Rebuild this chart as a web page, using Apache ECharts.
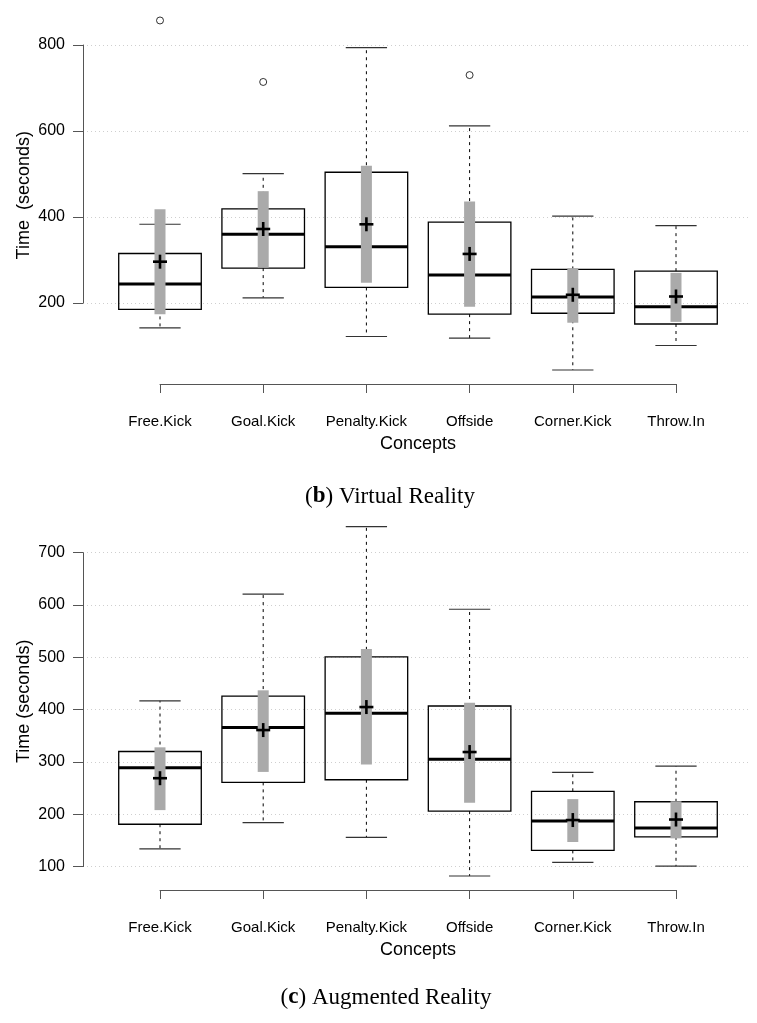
<!DOCTYPE html>
<html>
<head>
<meta charset="utf-8">
<script src="https://cdn.jsdelivr.net/npm/echarts@6/dist/echarts.min.js"></script>
<style>
html,body{margin:0;padding:0;background:#fff;}
#chart{width:757px;height:1023px;}
</style>
</head>
<body>
<div id="chart"></div>
<script>
// ---------- data ----------
const categories = ['Free.Kick', 'Goal.Kick', 'Penalty.Kick', 'Offside', 'Corner.Kick', 'Throw.In'];

// (b) Virtual Reality
const vrLowWhisker  = [142, 212, 122, 118, 44, 101];
const vrQ1          = [185, 281, 236, 174, 176, 151];
const vrMedian      = [244, 360, 331, 265, 214, 191];
const vrQ3          = [315, 419, 504, 388, 278, 274];
const vrHighWhisker = [383, 501, 794, 612, 402, 380];
const vrMean        = [296, 372, 383, 314, 219, 215];
const vrCILow       = [174, 282, 247, 191, 154, 156];
const vrCIHigh      = [418, 460, 519, 436, 281, 270];
const vrOutliers    = [[0, 857], [1, 714], [3, 730]];
const vrTicks       = [200, 400, 600, 800];

// (c) Augmented Reality
const arLowWhisker  = [134, 184, 156, 82, 108, 101];
const arQ1          = [181, 261, 266, 206, 131, 157];
const arMedian      = [289, 366, 393, 305, 187, 174];
const arQ3          = [320, 426, 501, 407, 244, 224];
const arHighWhisker = [417, 621, 750, 592, 280, 292];
const arMean        = [269, 361, 405, 319, 189, 190];
const arCILow       = [208, 281, 295, 222, 147, 154];
const arCIHigh      = [328, 437, 516, 413, 229, 225];
const arOutliers    = [];
const arTicks       = [100, 200, 300, 400, 500, 600, 700];

const panels = [
  {lw: vrLowWhisker, q1: vrQ1, med: vrMedian, q3: vrQ3, hw: vrHighWhisker, mean: vrMean, cl: vrCILow, ch: vrCIHigh, out: vrOutliers, ticks: vrTicks,
   yName: 'Time  (seconds)', capLetter: 'b', capText: ') Virtual Reality', plotTop: 6.5, plotBottom: 384, capTop: 480, capX: 385},
  {lw: arLowWhisker, q1: arQ1, med: arMedian, q3: arQ3, hw: arHighWhisker, mean: arMean, cl: arCILow, ch: arCIHigh, out: arOutliers, ticks: arTicks,
   yName: 'Time (seconds)', capLetter: 'c', capText: ') Augmented Reality', plotTop: 512.6, plotBottom: 890, capTop: 981, capX: 381}
];

// ---------- layout ----------
const W = 757, H = 1023;
const plotLeft = 160, plotRight = 676;     // x of first / last category
const axisLeft = 83, gridRight = 750;
const sans = 'Liberation Sans, Arial, Helvetica, sans-serif';
const serif = 'Liberation Serif, DejaVu Serif, serif';

function renderBox(params, api) {
  const x = api.value(0);
  const lw = api.value(1), q1 = api.value(2), med = api.value(3), q3 = api.value(4),
        hw = api.value(5), mean = api.value(6), cl = api.value(7), ch = api.value(8);
  const unit = api.size([1, 0])[0];
  const cx = api.coord([x, med])[0];
  const yOf = v => api.coord([x, v])[1];
  const halfBox = unit * 0.4, halfCap = unit * 0.2;
  const black = '#000';
  const dash = {stroke: black, lineWidth: 1, lineDash: [3, 4]};
  const children = [
    {type: 'line', shape: {x1: cx, y1: yOf(q3), x2: cx, y2: yOf(hw)}, style: dash},
    {type: 'line', shape: {x1: cx, y1: yOf(q1), x2: cx, y2: yOf(lw)}, style: dash},
    {type: 'line', shape: {x1: cx - halfCap, y1: yOf(hw), x2: cx + halfCap, y2: yOf(hw)}, style: {stroke: '#333', lineWidth: 1.2}},
    {type: 'line', shape: {x1: cx - halfCap, y1: yOf(lw), x2: cx + halfCap, y2: yOf(lw)}, style: {stroke: '#333', lineWidth: 1.2}},
    {type: 'rect', shape: {x: cx - halfBox, y: yOf(q3), width: 2 * halfBox, height: yOf(q1) - yOf(q3)}, style: {fill: 'none', stroke: black, lineWidth: 1.3}},
    {type: 'line', shape: {x1: cx - halfBox, y1: yOf(med), x2: cx + halfBox, y2: yOf(med)}, style: {stroke: black, lineWidth: 3}},
    {type: 'rect', shape: {x: cx - 5.5, y: yOf(ch), width: 11, height: yOf(cl) - yOf(ch)}, style: {fill: '#aaaaaa'}},
    {type: 'line', shape: {x1: cx - 7, y1: yOf(mean), x2: cx + 7, y2: yOf(mean)}, style: {stroke: black, lineWidth: 2.6}},
    {type: 'line', shape: {x1: cx, y1: yOf(mean) - 7, x2: cx, y2: yOf(mean) + 7}, style: {stroke: black, lineWidth: 2.6}}
  ];
  return {type: 'group', children};
}

const grid = [], xAxis = [], yAxis = [], series = [], title = [];

panels.forEach((p, k) => {
  const all = p.lw.concat(p.hw, p.out.map(o => o[1]));
  const lo = Math.min(...all), hi = Math.max(...all);
  const ext = 0.04 * (hi - lo);
  const ylo = lo - ext, yhi = hi + ext;
  const pix = v => p.plotBottom - (v - ylo) / (yhi - ylo) * (p.plotBottom - p.plotTop);
  const tMin = p.ticks[0], tMax = p.ticks[p.ticks.length - 1];
  const step = p.ticks[1] - p.ticks[0];

  // main data grid
  const gMain = grid.length;
  grid.push({left: plotLeft, width: plotRight - plotLeft, top: p.plotTop, height: p.plotBottom - p.plotTop});
  xAxis.push({
    gridIndex: gMain, type: 'value', min: 1, max: categories.length, interval: 1,
    axisLine: {show: true, lineStyle: {color: '#555', width: 1}},
    axisTick: {show: true, length: 9, lineStyle: {color: '#555'}},
    axisLabel: {show: true, margin: 30, fontFamily: sans, fontSize: 15, color: '#000',
                formatter: v => categories[v - 1] || ''},
    splitLine: {show: false},
    name: 'Concepts', nameLocation: 'middle', nameGap: 51,
    nameTextStyle: {fontFamily: sans, fontSize: 18, color: '#000'}
  });
  yAxis.push({
    gridIndex: gMain, type: 'value', min: ylo, max: yhi,
    axisLine: {show: false}, axisTick: {show: false}, axisLabel: {show: false}, splitLine: {show: false},
    name: p.yName, nameLocation: 'middle', nameGap: plotLeft - 33, nameRotate: 90,
    nameTextStyle: {fontFamily: sans, fontSize: 18, color: '#000'}
  });

  // y-axis grid (axis line + ticks + dotted grid lines)
  const gAxis = grid.length;
  grid.push({left: axisLeft, width: gridRight - axisLeft, top: pix(tMax), height: pix(tMin) - pix(tMax)});
  xAxis.push({gridIndex: gAxis, type: 'value', min: 0, max: 1, show: false});
  yAxis.push({
    gridIndex: gAxis, type: 'value', min: tMin, max: tMax, interval: step,
    axisLine: {show: true, lineStyle: {color: '#555', width: 1}},
    axisTick: {show: true, length: 10, lineStyle: {color: '#555'}},
    axisLabel: {margin: 18, fontFamily: sans, fontSize: 16, color: '#000'},
    splitLine: {show: true, lineStyle: {color: '#cfcfcf', type: [1, 3], width: 1}}
  });

  series.push({
    type: 'custom', xAxisIndex: gMain, yAxisIndex: gMain, renderItem: renderBox, clip: false,
    encode: {x: 0, y: [1, 2, 3, 4, 5, 6, 7, 8]},
    data: categories.map((c, i) => [i + 1, p.lw[i], p.q1[i], p.med[i], p.q3[i], p.hw[i], p.mean[i], p.cl[i], p.ch[i]]),
    silent: true, z: 3
  });
  if (p.out.length) {
    series.push({
      type: 'scatter', xAxisIndex: gMain, yAxisIndex: gMain, symbol: 'circle', symbolSize: 7,
      itemStyle: {color: '#fff', borderColor: '#000', borderWidth: 1},
      data: p.out.map(o => [o[0] + 1, o[1]]), silent: true, z: 4
    });
  }

  title.push({
    left: p.capX, top: p.capTop, textAlign: 'center',
    text: '{r|(}{b|' + p.capLetter + '}{r|' + p.capText + '}',
    textStyle: {fontWeight: 'normal', fontFamily: serif, fontSize: 23, rich: {
      r: {fontFamily: serif, fontSize: 23, fontWeight: 'normal', color: '#000'},
      b: {fontFamily: serif, fontSize: 23, fontWeight: 'bold', color: '#000'}
    }}
  });
});

const chart = echarts.init(document.getElementById('chart'), null, {renderer: 'canvas', width: W, height: H});
chart.setOption({animation: false, backgroundColor: '#fff', title, grid, xAxis, yAxis, series});
</script>
</body>
</html>
